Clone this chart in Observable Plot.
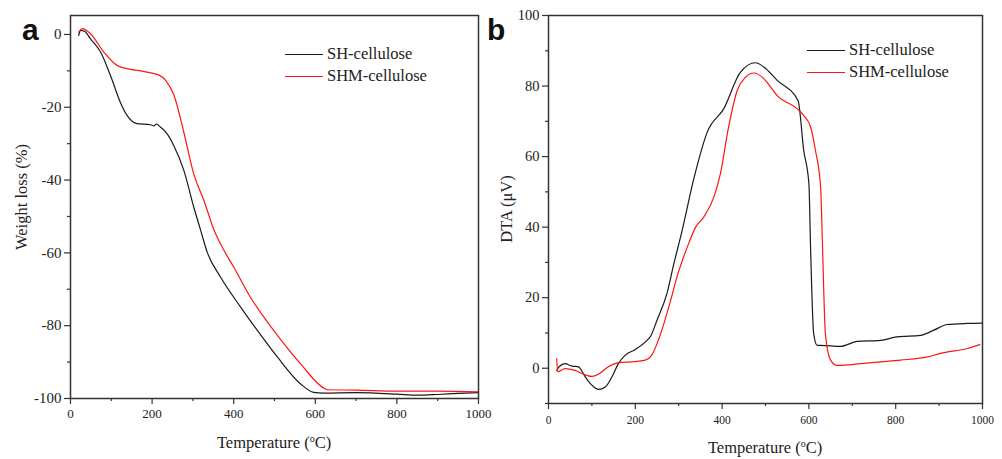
<!DOCTYPE html>
<html><head><meta charset="utf-8">
<script src="https://cdn.jsdelivr.net/npm/d3@7"></script>
<script src="https://cdn.jsdelivr.net/npm/@observablehq/plot@0.6"></script>
<style>
body{margin:0;background:#fff;}
#wrap{position:relative;width:1002px;height:459px;display:flex;font-family:"Liberation Serif","Tinos","Times New Roman","DejaVu Serif",serif;color:#222;overflow:hidden;}
.abs{position:absolute;white-space:nowrap;}
.ttl{font-size:16.5px;line-height:16px;}
.tag{font-family:"Liberation Sans",Arimo,Arial,sans-serif;font-weight:bold;font-size:30px;line-height:30px;color:#111;}
.leg{font-size:16.5px;line-height:20px;height:20px;display:flex;align-items:center;}
.leg i{display:inline-block;width:38px;height:0;border-top:1.3px solid;margin-right:4px;}
</style></head>
<body><div id="wrap"></div>
<script>
// ---- Panel a: TG (weight loss %) ----
const seriesNames = ["SH-cellulose", "SHM-cellulose"];
const seriesColors = ["#1a1a1a", "#ff1414"];

const tgTempSH = [20,25,35,49,74,98,122,139,163,196,205,210,221,237,253,278,302,319,335,368,417,458,507,564,596,620,700,800,850,900,950,1000];
const tgLossSH = [-0.3,1.1,0.8,-1.2,-4.9,-11.3,-18.6,-22.3,-24.5,-24.8,-25.1,-24.6,-25.5,-27.3,-30.5,-37.4,-47.4,-53.8,-59.8,-66.7,-74.9,-81.3,-88.6,-96,-98.3,-98.5,-98.4,-98.8,-99.1,-98.9,-98.6,-98.4];

const tgTempSHM = [20,29,49,82,114,139,180,216,233,253,278,302,327,352,376,400,441,498,564,625,630,700,800,900,1000];
const tgLossSHM = [0.6,1.6,0.2,-4.9,-8.5,-9.4,-10.2,-11.1,-12.6,-16.5,-27,-38.3,-45.6,-53.8,-59.3,-63.9,-72.2,-81.3,-90.5,-97.4,-97.6,-97.7,-98,-98,-98.2];

const tgXTicks = [0,200,400,600,800,1000];
const tgXMinor = [100,300,500,700,900];
const tgYTicks = [0,-20,-40,-60,-80,-100];
const tgYMinor = [-10,-30,-50,-70,-90];

// ---- Panel b: DTA (µV) ----
const dtaTempSH = [19,25,38,54,69,85,100,115,131,146,161,177,200,227,235,250,273,289,308,335,366,404,442,477,496,527,575,588,600,604,611,619,627,673,711,765,803,857,888,919,965,999];
const dtaValSH  = [-0.6,0.5,1.3,0.6,0.4,-2.5,-4.8,-6.0,-5.3,-2.5,1.3,3.7,5.3,7.9,9.0,13.6,21.2,29.7,39.1,53.8,67,73.6,83.9,86.6,85.4,81.6,75.9,61.8,52.3,33.4,9.8,6.5,6.5,6.2,7.6,7.9,8.9,9.3,10.8,12.4,12.7,12.8];

const dtaTempSHM = [19,21,38,61,77,100,115,138,161,192,223,238,253,266,281,296,320,339,358,381,396,415,435,454,473,496,512,527,573,588,604,615,627,631,638,650,665,719,765,811,873,903,965,994];
const dtaValSHM  = [2.7,-1,-0.1,-0.6,-1.5,-2.3,-1.7,0.4,1.6,1.8,2.3,3.7,7.9,12.7,19,25.9,34.4,40,42.9,48.5,55.1,68.4,78.8,82.5,83.7,82.1,79.7,77.3,73.6,71.7,68.4,61.8,51.4,36,9.8,2.3,0.8,1.3,1.8,2.3,3.2,4.2,5.6,6.7];

const dtaXTicks = [0,200,400,600,800,1000];
const dtaXMinor = [100,300,500,700,900];
const dtaYTicks = [0,20,40,60,80,100];
const dtaYMinor = [-10,10,30,50,70,90];

const toRows = (xs, ys) => xs.map((x, i) => ({x, y: ys[i]}));
const fmt = d => String(d);
const axisCol = "#333";
const serif = '"Liberation Serif", Tinos, "Times New Roman", "DejaVu Serif", serif';

function panel({width, ml, mr, mb, yDomain, xT, xM, yT, yM, xFont, yFont, xPad, sets}) {
  return Plot.plot({
    width, height: 459, marginLeft: ml, marginRight: mr, marginTop: 15, marginBottom: mb,
    style: {fontFamily: serif, color: "#222", background: "transparent"},
    x: {domain: [0, 1000]},
    y: {domain: yDomain},
    marks: [
      Plot.axisX({ticks: xM, tickSize: 3, tickFormat: () => "", label: null, stroke: axisCol, strokeWidth: 1.2}),
      Plot.axisX({ticks: xT, tickSize: 6, tickPadding: xPad, fontSize: xFont, fontFamily: serif, tickFormat: fmt, label: null, stroke: axisCol, strokeWidth: 1.2, fill: "#222"}),
      Plot.axisY({ticks: yM, tickSize: 3, tickFormat: () => "", label: null, stroke: axisCol, strokeWidth: 1.2}),
      Plot.axisY({ticks: yT, tickSize: 6, tickPadding: 3, fontSize: yFont, fontFamily: serif, tickFormat: fmt, label: null, stroke: axisCol, strokeWidth: 1.2, fill: "#222"}),
      ...sets.map((rows, i) => Plot.line(rows, {x: "x", y: "y", stroke: seriesColors[i], strokeWidth: 1.2, curve: "monotone-x"})),
      Plot.frame({stroke: axisCol, strokeWidth: 1.5})
    ]
  });
}

const wrap = document.getElementById("wrap");
wrap.appendChild(panel({
  width: 500, ml: 70, mr: 22, mb: 61, yDomain: [-100, 5.2],
  xT: tgXTicks, xM: tgXMinor, yT: tgYTicks, yM: tgYMinor, xFont: 13, yFont: 15, xPad: 4,
  sets: [toRows(tgTempSH, tgLossSH), toRows(tgTempSHM, tgLossSHM)]
}));
wrap.appendChild(panel({
  width: 502, ml: 48, mr: 20, mb: 56, yDomain: [-10, 100],
  xT: dtaXTicks, xM: dtaXMinor, yT: dtaYTicks, yM: dtaYMinor, xFont: 11.5, yFont: 14.5, xPad: 6,
  sets: [toRows(dtaTempSH, dtaValSH), toRows(dtaTempSHM, dtaValSHM)]
}));

function addDiv(cls, css, html) {
  const d = document.createElement("div");
  d.className = "abs " + cls;
  d.style.cssText = css;
  d.innerHTML = html;
  wrap.appendChild(d);
}
// panel tags
addDiv("tag", "left:22px;top:15px;", "a");
addDiv("tag", "left:487px;top:15px;", "b");
// axis titles
const degT = "Temperature (<sup style='font-size:10px;line-height:0;vertical-align:6px'>o</sup>C)";
addDiv("ttl", "left:274px;top:435px;transform:translateX(-50%);", degT);
addDiv("ttl", "left:765px;top:440px;transform:translateX(-50%);", degT);
addDiv("ttl", "left:22px;top:197px;transform:translate(-50%,-50%) rotate(-90deg);", "Weight loss (%)");
addDiv("ttl", "left:507px;top:209px;transform:translate(-50%,-50%) rotate(-90deg);", "DTA (μV)");
// legends
const legPos = [[285, 44, 22], [807, 40, 22]];
legPos.forEach(([lx, ly, gap]) => {
  seriesNames.forEach((n, i) => {
    addDiv("leg", `left:${lx}px;top:${ly + i * gap}px;`, `<i style="border-color:${seriesColors[i]}"></i>${n}`);
  });
});
</script>
</body></html>
